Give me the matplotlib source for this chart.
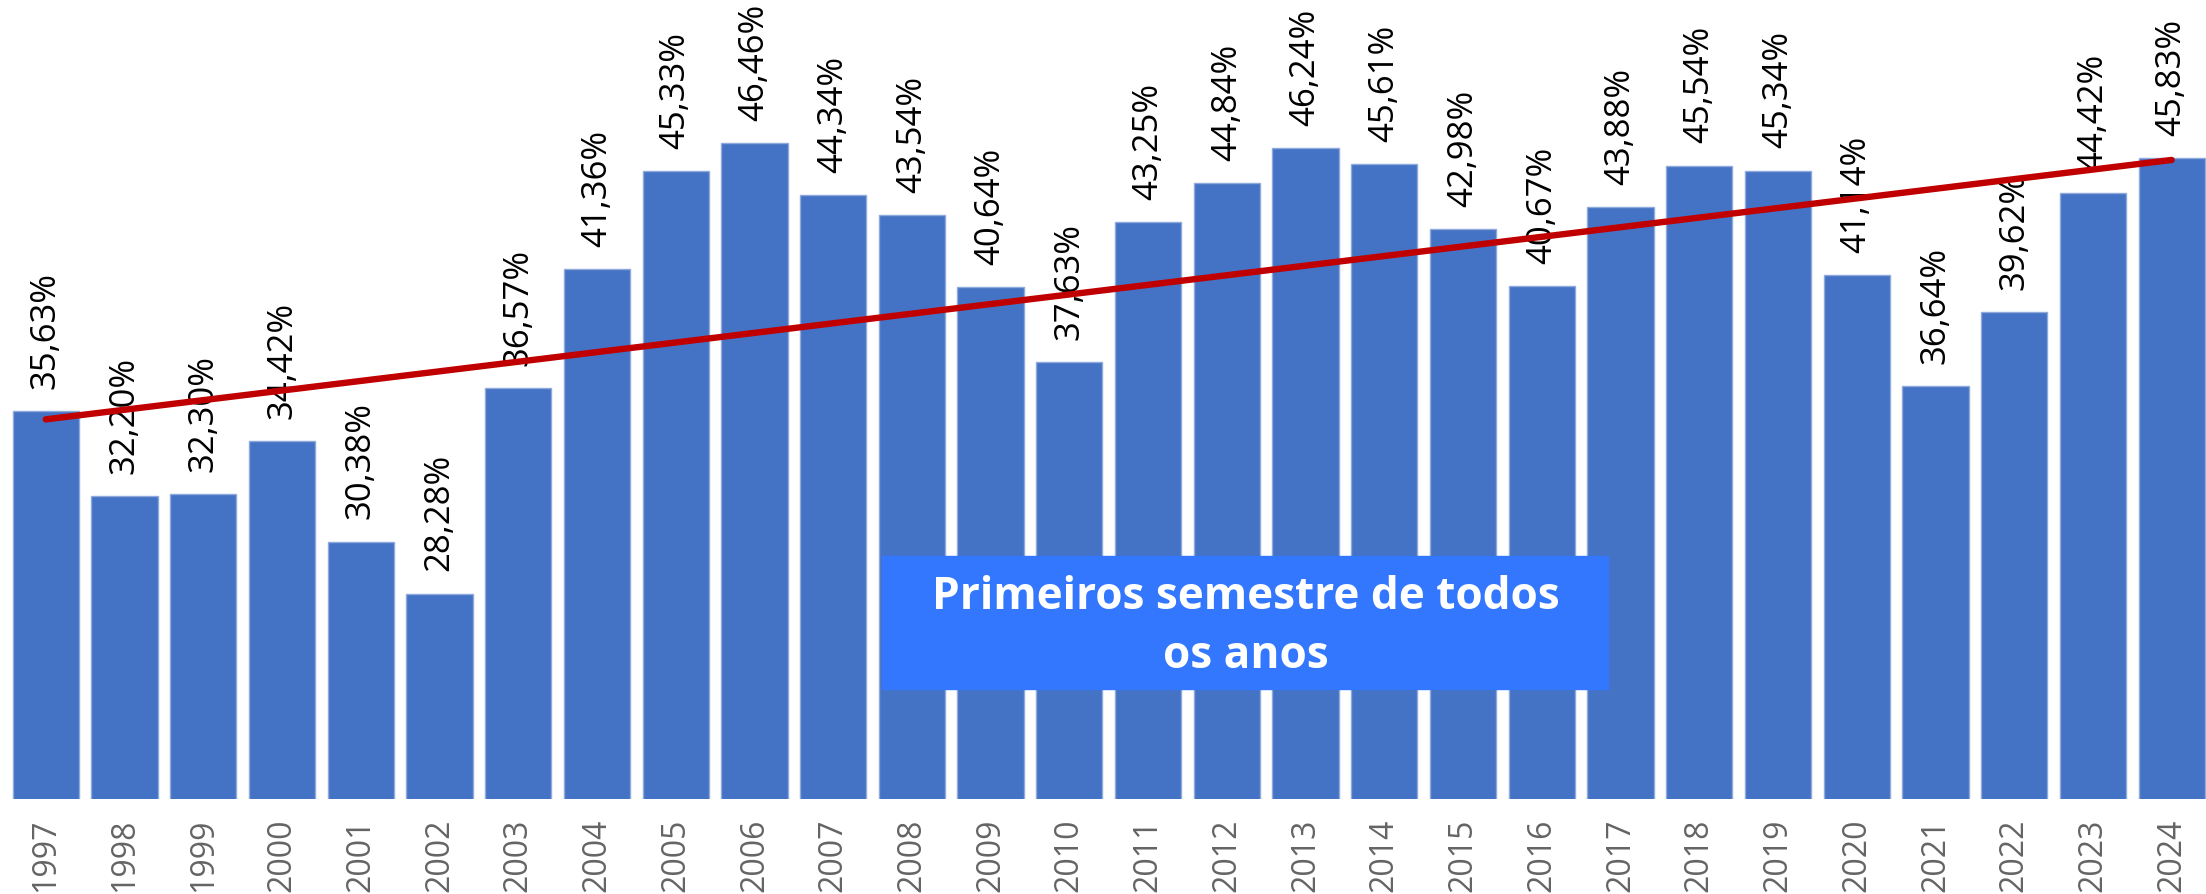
import numpy as np
import matplotlib
matplotlib.use("Agg")
import matplotlib.pyplot as plt
from matplotlib.patches import Rectangle

# dados - primeiro semestre de cada ano
anos = [1997, 1998, 1999, 2000, 2001, 2002, 2003, 2004, 2005, 2006,
        2007, 2008, 2009, 2010, 2011, 2012, 2013, 2014, 2015, 2016,
        2017, 2018, 2019, 2020, 2021, 2022, 2023, 2024]
valores = [35.63, 32.20, 32.30, 34.42, 30.38, 28.28, 36.57, 41.36, 45.33, 46.46,
           44.34, 43.54, 40.64, 37.63, 43.25, 44.84, 46.24, 45.61, 42.98, 40.67,
           43.88, 45.54, 45.34, 41.14, 36.64, 39.62, 44.42, 45.83]
rotulos = [f"{v:.2f}".replace(".", ",") + "%" for v in valores]
titulo_caixa = ["Primeiros semestre de todos", "os anos"]

fig = plt.figure(figsize=(22.06, 8.94), dpi=100)
ax = fig.add_axes([0, 0.10626, 1, 0.8322])

x = np.arange(len(anos))
ax.bar(x, valores, width=0.842, bottom=0, color="#4472C4",
       edgecolor="#8EA9DB", linewidth=1.0, zorder=2)

# rotulos acima das barras
for xi, v, r in zip(x, valores, rotulos):
    ax.annotate(r, (xi, v), xytext=(0, 16), textcoords="offset points",
                rotation=90, ha="center", va="bottom", fontsize=25,
                family="Open Sans", color="black", zorder=3)

# linha de tendencia (linear)
coef = np.polyfit(x, valores, 1)
ax.plot(x, np.polyval(coef, x), color="#C00000", lw=4.6,
        solid_capstyle="round", zorder=4)

ax.set_xlim(-0.581, 27.436)
ax.set_ylim(20, 50)
ax.set_xticks(x)
ax.set_xticklabels([str(a) for a in anos], rotation=90, fontsize=23,
                   family="Open Sans", color="#646464")
ax.tick_params(axis="x", length=0, pad=14)
ax.set_yticks([])
for s in ax.spines.values():
    s.set_visible(False)

# caixa de texto
fig.patches.append(Rectangle((882 / 2206, 1 - 689 / 894), 726 / 2206, 133 / 894,
                             transform=fig.transFigure, color="#3377FF",
                             zorder=5))
fig.text(1246 / 2206, 1 - 609 / 894, titulo_caixa[0], ha="center",
         va="baseline", fontsize=31.8, fontweight="bold", family="Open Sans",
         color="white", zorder=6)
fig.text(1246 / 2206, 1 - 668 / 894, titulo_caixa[1], ha="center",
         va="baseline", fontsize=31.8, fontweight="bold", family="Open Sans",
         color="white", zorder=6)

fig.savefig("out.png", dpi=100)
